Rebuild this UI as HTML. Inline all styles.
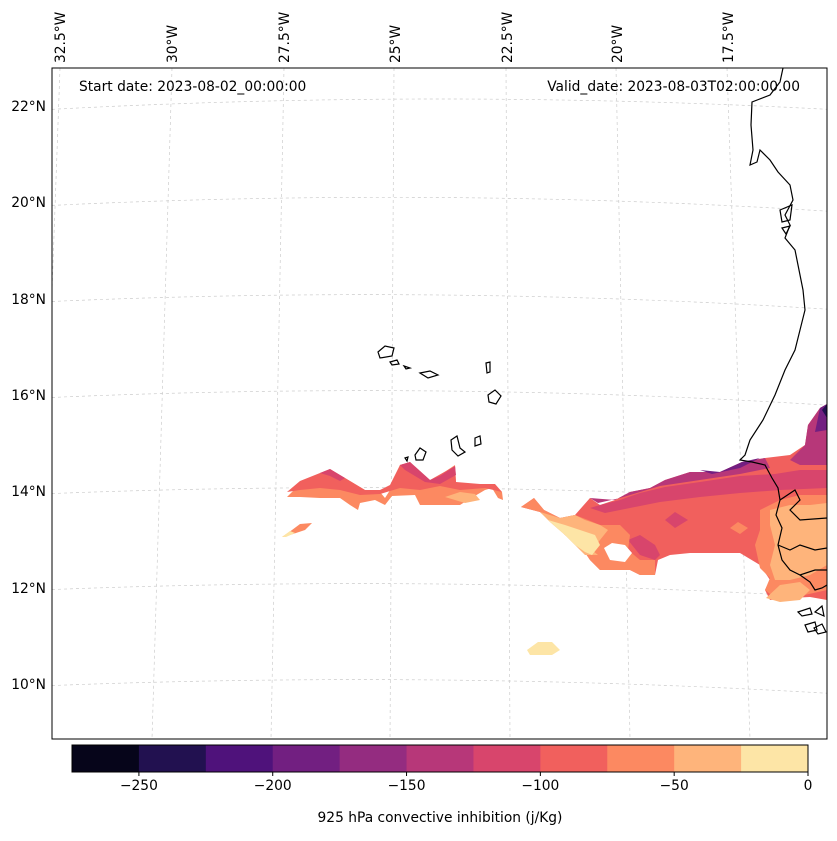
<!DOCTYPE html>
<html><head><meta charset="utf-8"><style>
body{margin:0;background:#fff;font-family:"Liberation Sans","DejaVu Sans",sans-serif;}
svg text{font-family:"DejaVu Sans","Liberation Sans",sans-serif;font-size:13.8px;fill:#000}
</style></head><body>
<svg width="837" height="836" xmlns="http://www.w3.org/2000/svg">
<rect width="837" height="836" fill="#fff"/>
<defs><clipPath id="mc"><rect x="52" y="68" width="775" height="671"/></clipPath></defs>
<g id="grid" clip-path="url(#mc)" stroke="#ccc" stroke-width="0.7" stroke-dasharray="3,3" fill="none">
<path d="M40,110 Q440,88 840,110"/><path d="M40,206 Q440,186 840,212"/><path d="M40,302 Q440,284 840,310"/>
<path d="M40,398 Q440,380 840,406"/><path d="M40,494 Q440,478 840,502"/><path d="M40,590 Q440,574 840,598"/><path d="M40,686 Q440,670 840,694"/>
<path d="M60,68 L36,739"/><path d="M172,68 L152,739"/><path d="M284,68 L271,739"/><path d="M394,68 L390,739"/>
<path d="M506,68 L510,739"/><path d="M616,68 L630,739"/><path d="M727,68 L750,739"/>
</g>
<g id="fills" clip-path="url(#mc)">
<path d="M287,497 L300,484 L320,475 L330,470 L345,478 L365,490 L380,492 L385,498 L392,487 L400,465 L410,462 L415,470 L430,482 L440,475 L455,465 L456,485 L470,486 L480,484 L495,485 L502,492 L503,500 L498,498 L492,488 L485,490 L468,500 L460,505 L420,505 L415,495 L392,496 L385,505 L375,500 L360,503 L358,510 L350,505 L340,498 L320,498 L300,497 Z" fill="#fc8961"/>
<path d="M287,492 L300,481 L320,473 L330,469 L345,478 L365,490 L380,490 L390,485 L400,465 L410,462 L430,480 L455,466 L456,482 L480,484 L495,484 L502,492 L485,488 L460,490 L440,486 L420,490 L400,488 L380,494 L360,495 L340,490 L320,488 L300,490 Z" fill="#f1605d"/>
<path d="M320,473 L330,469 L345,478 L340,481 L330,476 Z M400,465 L410,462 L430,480 L440,476 L455,466 L456,475 L440,484 L425,482 L405,470 Z" fill="#d8456c"/>
<path d="M445,497 L460,492 L475,494 L480,500 L465,503 Z" fill="#feb47b"/>
<path d="M282,537 L292,530 L300,524 L312,523 L305,530 L290,535 Z" fill="#fc8961"/>
<path d="M282,537 L290,531 L295,533 L286,537 Z" fill="#fde5a6"/>
<path d="M521,507 L534,498 L544,510 L560,518 L575,515 L590,498 L600,505 L615,500 L630,492 L650,488 L665,480 L690,472 L720,472 L742,462 L765,458 L790,455 L805,445 L808,425 L820,408 L827,404 L827,600 L810,597 L790,598 L770,600 L765,590 L770,580 L760,565 L740,553 L690,553 L670,555 L658,560 L655,575 L640,575 L630,570 L600,570 L590,560 L580,545 L565,535 L555,525 L540,512 Z" fill="#f1605d"/>
<path d="M805,445 L808,425 L820,408 L827,404 L827,465 L800,465 L790,460 Z M690,472 L720,472 L742,462 L765,458 L770,468 L740,474 L700,480 L660,486 L640,492 L620,498 L598,503 L590,498 L615,500 L630,492 L650,488 L665,480 Z" fill="#b73779"/>
<path d="M820,408 L827,404 L827,430 L815,432 Z M700,470 L720,472 L742,462 L760,458 L740,468 L712,474 Z" fill="#721f81"/>
<path d="M822,410 L827,404 L827,418 Z" fill="#221150"/>
<path d="M590,508 L600,505 L620,500 L640,493 L665,487 L700,482 L740,476 L775,474 L800,470 L827,470 L827,488 L780,490 L740,493 L700,497 L660,502 L630,508 L605,513 Z" fill="#d8456c"/>
<path d="M665,520 L675,512 L688,520 L675,528 Z M628,540 L640,535 L655,545 L660,555 L655,560 L640,555 Z" fill="#d8456c"/>
<path d="M521,507 L534,498 L544,510 L560,518 L575,515 L588,520 L600,525 L620,525 L630,535 L628,550 L640,560 L655,560 L655,575 L640,575 L630,570 L600,570 L590,560 L580,545 L565,535 L555,525 L540,512 Z M760,510 L780,500 L800,495 L827,495 L827,590 L800,596 L775,598 L765,590 L770,578 L760,568 L755,545 L760,530 Z M730,528 L738,522 L748,528 L740,534 Z" fill="#fc8961"/>
<path d="M540,512 L560,518 L575,515 L585,520 L600,525 L608,530 L600,540 L592,550 L598,555 L585,555 L575,545 L565,535 L550,522 Z M770,510 L790,505 L810,505 L827,503 L827,565 L810,575 L790,580 L775,580 L770,565 L775,545 L770,525 Z" fill="#feb47b"/>
<path d="M548,520 L565,525 L580,530 L595,535 L600,545 L592,555 L585,552 L575,545 L565,535 Z" fill="#fde5a6"/>
<path d="M604,548 L612,543 L625,545 L632,553 L625,562 L610,560 Z" fill="#fff"/>
<path d="M527,650 L538,642 L552,642 L560,650 L552,655 L530,655 Z" fill="#fde5a6"/>
<path d="M766,598 L780,585 L800,582 L810,590 L800,600 L780,602 Z" fill="#feb47b"/>
</g>
<g id="coast" clip-path="url(#mc)" fill="none" stroke="#000" stroke-width="1.2">
<path d="M783,68 L780,82 L770,95 L752,102 L751,125 L753,150 L750,165 L757,162 L760,150 L770,160 L778,172 L790,185 L793,200 L785,215 L790,225 L785,238 L795,250 L798,265 L803,290 L805,310 L800,330 L795,350 L785,370 L775,395 L763,420 L750,440 L745,455 L740,460 L752,462 L765,465 L772,478 L778,488 L780,500 L776,515 L782,528 L778,545 L782,560 L790,570 L800,575 L815,570 L827,570"/>
<path d="M780,500 L795,490 L800,500 L790,510 L800,520 L827,518"/>
<path d="M778,545 L790,550 L800,545 L815,550 L827,548"/>
<path d="M800,575 L810,582 L815,590 L822,588 L827,585"/>
<path d="M780,210 L792,205 L790,220 L782,222 Z M782,228 L790,226 L786,234 Z"/>
<path d="M378,352 L385,346 L394,348 L392,356 L380,358 Z M390,362 L397,360 L399,364 L392,365 Z M404,366 L410,368 L406,369 Z M420,373 L430,371 L438,375 L428,378 Z M486,363 L490,362 L490,372 L487,373 Z M488,395 L495,390 L501,396 L496,404 L489,402 Z M415,455 L420,448 L426,452 L423,460 L416,460 Z M405,458 L408,457 L407,461 Z M451,440 L457,436 L460,448 L465,452 L458,456 L452,450 Z M475,438 L480,436 L481,444 L475,446 Z"/>
<path d="M798,612 L810,608 L812,614 L802,616 Z M815,612 L822,606 L824,616 Z M805,625 L815,622 L817,630 L808,632 Z M814,628 L822,624 L826,632 L818,634 Z"/>
</g>
<rect x="52" y="68" width="775" height="671" fill="none" stroke="#000" stroke-width="1"/>
<g text-anchor="end">
<text x="46" y="111">22°N</text><text x="46" y="207">20°N</text><text x="46" y="304">18°N</text><text x="46" y="400">16°N</text>
<text x="46" y="496">14°N</text><text x="46" y="593">12°N</text><text x="46" y="689">10°N</text>
</g>
<g>
<text transform="translate(65,63) rotate(-90)">32.5°W</text><text transform="translate(177,63) rotate(-90)">30°W</text>
<text transform="translate(289,63) rotate(-90)">27.5°W</text><text transform="translate(400,63) rotate(-90)">25°W</text>
<text transform="translate(512,63) rotate(-90)">22.5°W</text><text transform="translate(622,63) rotate(-90)">20°W</text>
<text transform="translate(733,63) rotate(-90)">17.5°W</text>
</g>
<text x="79" y="91">Start date: 2023-08-02_00:00:00</text>
<text x="800" y="91" text-anchor="end">Valid_date: 2023-08-03T02:00:00.00</text>
<g id="cbar"></g>
<text x="440" y="822" text-anchor="middle">925 hPa convective inhibition (j/Kg)</text>
</svg>
<script>
const levels=[-275,-250,-225,-200,-175,-150,-125,-100,-75,-50,-25,0];
const colors=["#06051a","#221150","#4f127b","#721f81","#942c80","#b73779","#d8456c","#f1605d","#fc8961","#feb47b","#fde5a6"];
const ticks=[-250,-200,-150,-100,-50,0];
const tickLabels=["−250","−200","−150","−100","−50","0"];
const ns="http://www.w3.org/2000/svg";
const g=document.getElementById('cbar');
const x0=72,x1=808,y0=745,h=27;
function sx(v){return x0+(v-levels[0])/(levels[levels.length-1]-levels[0])*(x1-x0);}
for(let i=0;i<colors.length;i++){
 const r=document.createElementNS(ns,'rect');
 r.setAttribute('x',sx(levels[i]));r.setAttribute('y',y0);
 r.setAttribute('width',sx(levels[i+1])-sx(levels[i])+0.5);r.setAttribute('height',h);
 r.setAttribute('fill',colors[i]);
 
 
 g.appendChild(r);
}
const fr=document.createElementNS(ns,'rect');
fr.setAttribute('x',x0);fr.setAttribute('y',y0);fr.setAttribute('width',x1-x0);fr.setAttribute('height',h);
fr.setAttribute('fill','none');fr.setAttribute('stroke','#000');


g.appendChild(fr);
ticks.forEach((t,i)=>{
 const l=document.createElementNS(ns,'line');
 l.setAttribute('x1',sx(t));l.setAttribute('x2',sx(t));l.setAttribute('y1',y0+h);l.setAttribute('y2',y0+h+4);
 l.setAttribute('stroke','#000');
 
 
 g.appendChild(l);
 const tx=document.createElementNS(ns,'text');
 tx.setAttribute('x',sx(t));tx.setAttribute('y',y0+h+18);tx.setAttribute('text-anchor','middle');
 tx.textContent=tickLabels[i];
 
 
 g.appendChild(tx);
});
</script>
</body></html>
